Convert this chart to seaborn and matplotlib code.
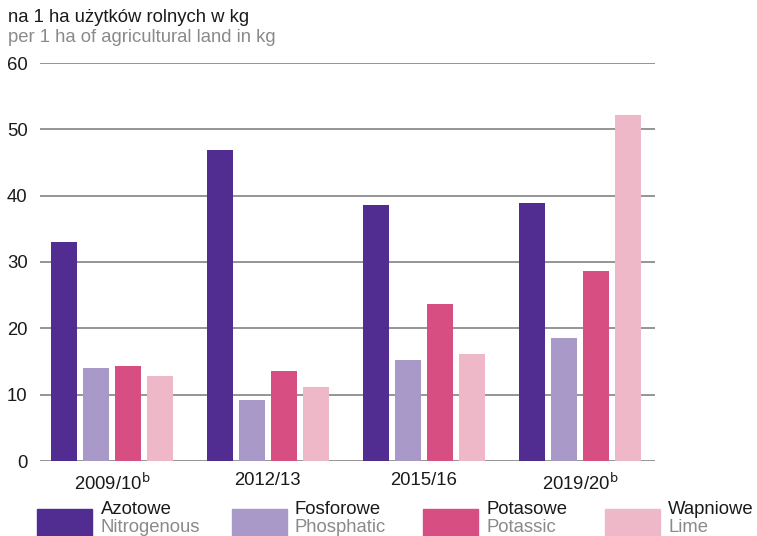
import pandas as pd
import seaborn as sns
import matplotlib.pyplot as plt
from matplotlib.patches import Rectangle

# data
years = ["2009/10$^{\\mathrm{b}}$", "2012/13", "2015/16", "2019/20$^{\\mathrm{b}}$"]
types_pl = ["Azotowe", "Fosforowe", "Potasowe", "Wapniowe"]
types_en = ["Nitrogenous", "Phosphatic", "Potassic", "Lime"]
nitrogen = [33.0, 46.9, 38.6, 38.9]
phosphate = [14.0, 9.2, 15.2, 18.5]
potash = [14.3, 13.6, 23.7, 28.6]
lime = [12.8, 11.2, 16.1, 52.2]
colors = ["#512D91", "#A999C8", "#D64E82", "#EEB8C8"]

rows = []
for t, vals in zip(types_pl, [nitrogen, phosphate, potash, lime]):
    for y, v in zip(years, vals):
        rows.append({"year": y, "type": t, "value": v})
df = pd.DataFrame(rows)

sns.set_style("white")
plt.rcParams["font.family"] = ["Liberation Sans", "DejaVu Sans"]
fs = 13.3

fig = plt.figure(figsize=(7.57, 5.36), dpi=100)
ax = fig.add_axes([40 / 757, 75 / 536, 615 / 757, 398 / 536])

sns.barplot(data=df, x="year", y="value", hue="type", order=years,
            hue_order=types_pl, palette=colors, width=0.82, gap=0.18,
            saturation=1, legend=False, linewidth=0, ax=ax)

ax.set_ylim(0, 60)
ax.set_xlim(-0.46, 3.48)
ax.set_yticks(range(0, 61, 10))
ax.yaxis.grid(True, color="#8c8c8c", linewidth=1.3)
ax.set_axisbelow(True)
for s in ax.spines.values():
    s.set_visible(False)
ax.tick_params(axis="both", length=0, labelsize=fs, colors="#1a1a1a")
ax.tick_params(axis="y", pad=9)
ax.tick_params(axis="x", pad=8)
ax.set_xlabel("")
ax.set_ylabel("")

fig.text(8 / 757, 1 - 17 / 536, "na 1 ha użytków rolnych w kg", fontsize=fs,
         color="#1a1a1a", va="center")
fig.text(8 / 757, 1 - 37 / 536, "per 1 ha of agricultural land in kg", fontsize=fs,
         color="#8a8a8a", va="center")

# legend: swatches with Polish / English names
sw_x = [37, 232, 423, 605]
tx_x = [101, 294, 486, 668]
for i in range(4):
    fig.add_artist(Rectangle((sw_x[i] / 757, 0), 55 / 757, 27 / 536,
                             transform=fig.transFigure, color=colors[i]))
    fig.text(tx_x[i] / 757, 1 - 510 / 536, types_pl[i], fontsize=fs,
             color="#1a1a1a", va="center")
    fig.text(tx_x[i] / 757, 1 - 528 / 536, types_en[i], fontsize=fs,
             color="#8a8a8a", va="center")

fig.savefig("out.png", dpi=100)
